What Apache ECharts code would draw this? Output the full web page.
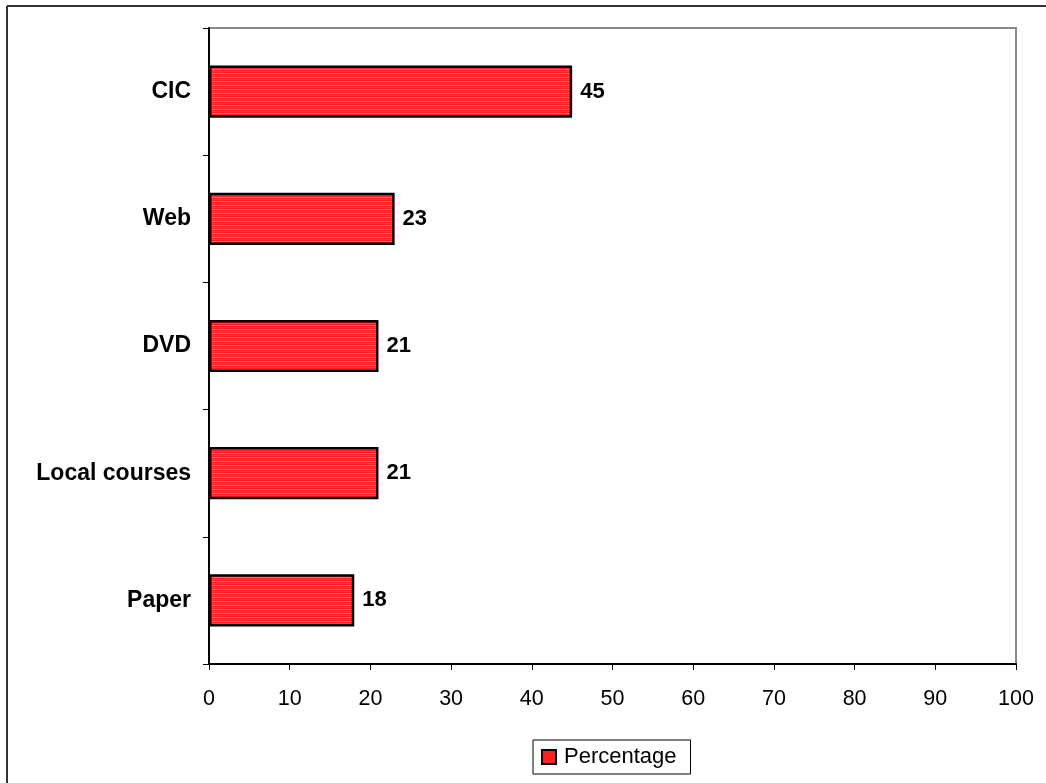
<!DOCTYPE html>
<html>
<head>
<meta charset="utf-8">
<script src="https://cdn.jsdelivr.net/npm/echarts@6/dist/echarts.min.js"></script>
<style>
  html, body { margin: 0; padding: 0; background: #fff; }
  #chart { width: 1046px; height: 783px; }
</style>
</head>
<body>
<div id="chart"></div>
<script>
// Survey results: share of respondents per source
const categories = ['CIC', 'Web', 'DVD', 'Local courses', 'Paper'];
const percentages = [45, 23, 21, 21, 18];
const seriesName = 'Percentage';

// Red fill with fine horizontal light stripes
function stripePattern() {
  const c = document.createElement('canvas');
  c.width = 8; c.height = 4;
  const ctx = c.getContext('2d');
  ctx.fillStyle = '#ff1f1f';
  ctx.fillRect(0, 0, 8, 4);
  ctx.fillStyle = '#ff6a6a';
  ctx.fillRect(0, 1, 8, 1);
  ctx.fillStyle = '#ff3a3a';
  ctx.fillRect(0, 3, 8, 1);
  return c;
}
const pattern = { image: stripePattern(), repeat: 'repeat' };

const chart = echarts.init(document.getElementById('chart'), null, { renderer: 'canvas' });
const font = '"Liberation Sans", Arial, sans-serif';

chart.setOption({
  animation: false,
  backgroundColor: '#fff',
  textStyle: { fontFamily: font },
  grid: {
    left: 209, right: 30, top: 28, bottom: 119,
    show: true, borderColor: '#8a8a8a', borderWidth: 2, containLabel: false
  },
  legend: {
    data: [seriesName],
    left: 533, top: 740,
    padding: [6, 14, 6, 8],
    borderColor: '#000', borderWidth: 1,
    icon: 'rect', itemWidth: 14, itemHeight: 14, itemGap: 6,
    textStyle: { fontSize: 22, color: '#000', fontFamily: font, padding: [0, 0, 0, 3] },
    itemStyle: { color: '#ff2020', borderColor: '#000', borderWidth: 2 }
  },
  xAxis: {
    type: 'value', min: 0, max: 100, interval: 10,
    axisLine: { show: true, lineStyle: { color: '#000', width: 2 } },
    axisTick: { show: true, length: 6, lineStyle: { color: '#000' } },
    axisLabel: { fontSize: 21.5, color: '#000', margin: 24, fontFamily: font },
    splitLine: { show: false }
  },
  yAxis: {
    type: 'category', data: categories, inverse: true,
    axisLine: { show: true, lineStyle: { color: '#000', width: 2 } },
    axisTick: { show: true, length: 6, inside: false, lineStyle: { color: '#000' } },
    axisLabel: { fontSize: 23, fontWeight: 'bold', color: '#000', margin: 18, fontFamily: font },
    splitLine: { show: false }
  },
  series: [{
    name: seriesName,
    type: 'bar',
    data: percentages,
    barCategoryGap: '59%',
    itemStyle: { color: pattern, borderColor: '#000', borderWidth: 2.5 },
    label: {
      show: true, position: 'right', distance: 8,
      fontSize: 22, fontWeight: 'bold', color: '#000', fontFamily: font
    }
  }],
  graphic: [
    { type: 'line', shape: { x1: 7, y1: 6, x2: 1046, y2: 6 }, style: { stroke: '#333', lineWidth: 2 } },
    { type: 'line', shape: { x1: 7, y1: 6, x2: 7, y2: 783 }, style: { stroke: '#333', lineWidth: 2 } }
  ]
});
</script>
</body>
</html>
